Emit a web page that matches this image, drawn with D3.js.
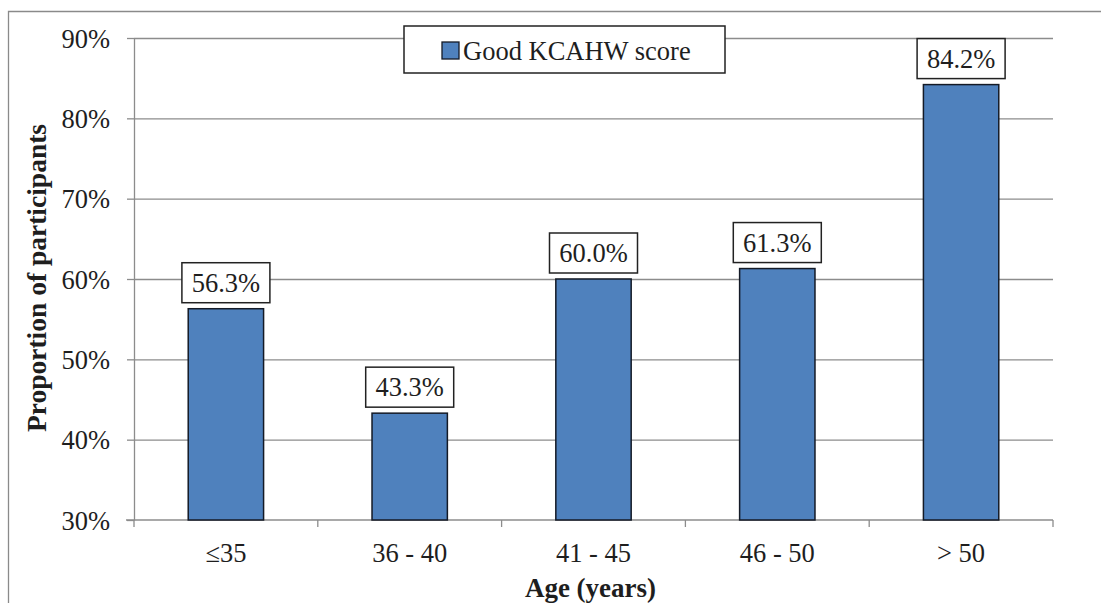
<!DOCTYPE html>
<html>
<head>
<meta charset="utf-8">
<script src="https://cdn.jsdelivr.net/npm/d3@7"></script>
<style>
  html, body { margin: 0; padding: 0; background: #fff; }
  svg { display: block; }
  text { font-family: "Liberation Serif", "Times New Roman", serif; fill: #1e1e1e; }
</style>
</head>
<body>
<svg id="chart" width="1101" height="603"></svg>
<script>
// Share of participants with a good KCAHW score, by age group
const categories = ["\u226435", "36 - 40", "41 - 45", "46 - 50", "> 50"];
const goodScore = [0.563, 0.433, 0.600, 0.613, 0.842];
const yTicks = [0.3, 0.4, 0.5, 0.6, 0.7, 0.8, 0.9];
const seriesName = "Good KCAHW score";
const xTitle = "Age (years)";
const yTitle = "Proportion of participants";

const svg = d3.select("#chart");
const plot = { left: 134, right: 1053, top: 38, bottom: 520 };

const x = d3.scaleBand().domain(categories).range([plot.left, plot.right]).padding(0);
const y = d3.scaleLinear().domain([0.3, 0.9]).range([plot.bottom, plot.top]);
const barW = x.bandwidth() * 0.41;
const pct0 = d3.format(".0%");
const pct1 = d3.format(".1%");

// outer frame (top and left edges)
svg.append("path")
  .attr("d", "M8.5,603 V11.5 H1101")
  .attr("fill", "none").attr("stroke", "#8a8a8a").attr("stroke-width", 1.3);

// horizontal gridlines
const grid = svg.append("g").attr("transform", `translate(${plot.left},0)`)
  .call(d3.axisLeft(y).tickValues(yTicks.slice(1)).tickSize(-(plot.right - plot.left)).tickFormat(""));
grid.select(".domain").remove();
grid.selectAll("line").attr("stroke", "#8c8c8c").attr("stroke-width", 1.3);

// y axis with outward ticks and labels
const yAxis = svg.append("g").attr("transform", `translate(${plot.left},0)`)
  .call(d3.axisLeft(y).tickValues(yTicks).tickSizeInner(7).tickSizeOuter(0).tickPadding(17).tickFormat(pct0));
yAxis.select(".domain").attr("stroke", "#8c8c8c").attr("stroke-width", 1.3);
yAxis.selectAll("line").attr("stroke", "#8c8c8c").attr("stroke-width", 1.3);
yAxis.selectAll("text").style("font-size", "26.5px").attr("fill", "#1e1e1e").attr("dy", "0.35em")
  .style("font-family", "'Liberation Serif', serif");

// x axis: ticks at category boundaries
const xAxisLine = svg.append("g");
xAxisLine.append("line")
  .attr("x1", plot.left - 8).attr("x2", plot.right)
  .attr("y1", plot.bottom).attr("y2", plot.bottom)
  .attr("stroke", "#8c8c8c").attr("stroke-width", 1.3);
const boundaries = categories.map(c => x(c)).concat([x(categories[categories.length - 1]) + x.bandwidth()]);
xAxisLine.selectAll("line.tick").data(boundaries).join("line")
  .attr("class", "tick")
  .attr("x1", d => d).attr("x2", d => d)
  .attr("y1", plot.bottom).attr("y2", plot.bottom + 7)
  .attr("stroke", "#8c8c8c").attr("stroke-width", 1.3);

svg.append("g").selectAll("text").data(categories).join("text")
  .attr("x", d => x(d) + x.bandwidth() / 2)
  .attr("y", 562)
  .attr("text-anchor", "middle")
  .style("font-size", "26.5px")
  .text(d => d);

// bars
svg.append("g").selectAll("rect").data(goodScore).join("rect")
  .attr("x", (d, i) => x(categories[i]) + (x.bandwidth() - barW) / 2)
  .attr("y", d => y(d))
  .attr("width", barW)
  .attr("height", d => plot.bottom - y(d))
  .attr("fill", "#4f81bd")
  .attr("stroke", "#141a26")
  .attr("stroke-width", 1.5);

// value labels in boxes above the bars
const lab = svg.append("g").selectAll("g").data(goodScore).join("g")
  .attr("transform", (d, i) => `translate(${x(categories[i]) + x.bandwidth() / 2},${y(d) - 6})`);
lab.append("rect")
  .attr("x", -44).attr("y", -40).attr("width", 88).attr("height", 40)
  .attr("fill", "#fff").attr("stroke", "#222").attr("stroke-width", 1.5);
lab.append("text")
  .attr("x", 0).attr("y", -11)
  .attr("text-anchor", "middle")
  .style("font-size", "26.5px")
  .text(d => pct1(d));

// legend
const leg = svg.append("g");
leg.append("rect").attr("x", 404).attr("y", 26).attr("width", 321).attr("height", 47)
  .attr("fill", "#fff").attr("stroke", "#222").attr("stroke-width", 1.5);
leg.append("rect").attr("x", 442).attr("y", 42).attr("width", 17).attr("height", 17)
  .attr("fill", "#4f81bd").attr("stroke", "#141a26").attr("stroke-width", 1.3);
leg.append("text").attr("x", 463).attr("y", 59.5).style("font-size", "26.5px").text(seriesName);

// axis titles
svg.append("text")
  .attr("x", plot.left + (plot.right - plot.left) / 2 - 3).attr("y", 597)
  .attr("text-anchor", "middle")
  .style("font-size", "27px").style("font-weight", "bold")
  .text(xTitle);
svg.append("text")
  .attr("transform", "translate(46,278) rotate(-90)")
  .attr("text-anchor", "middle")
  .style("font-size", "27.5px").style("font-weight", "bold")
  .text(yTitle);
</script>
</body>
</html>
